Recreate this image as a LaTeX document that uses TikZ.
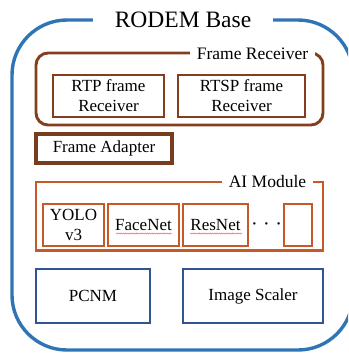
\documentclass[tikz,border=0pt]{standalone}
\usepackage{fontspec}
\setmainfont{Liberation Serif}
\usetikzlibrary{decorations.pathmorphing}
\definecolor{baseblue}{RGB}{46,117,182}
\definecolor{recvbrown}{RGB}{132,62,30}
\definecolor{adaptbrown}{RGB}{120,60,30}
\definecolor{aiorange}{RGB}{197,90,40}
\definecolor{toolblue}{RGB}{47,85,151}
\tikzset{
  grouplabel/.style={fill=white, inner sep=0pt, text=black},
  leafbox/.style={draw, line width=2.4pt, inner sep=0pt, align=center,
    font=\fontsize{17}{20}\selectfont, text=black},
  spellmark/.style={draw=red!65, line width=0.45pt,
    decorate, decoration={snake, amplitude=0.55pt, segment length=2.2pt}}
}
\begin{document}
\begin{tikzpicture}[x=1pt, y=-1pt]
\useasboundingbox (0,0) rectangle (348,353);
\clip (0,0) rectangle (348,353);

% outer platform frame
\draw[baseblue, line width=3.4pt, rounded corners=55pt] (12,20) rectangle (353,350);
\node[grouplabel, minimum width=180pt, minimum height=20pt,
      font=\fontsize{23.5}{26}\selectfont] (base) at (183,20) {RODEM Base};

% frame receiver group
\draw[recvbrown, line width=2.9pt, rounded corners=12pt] (36,53) rectangle (323,125);
\node[grouplabel, minimum width=125pt, minimum height=12pt,
      font=\fontsize{17.5}{20}\selectfont] (recv) at (252.5,54) {Frame Receiver};
\node[leafbox, draw=recvbrown, minimum width=111pt, minimum height=42pt] (rtp)
  at (108.5,96) {RTP frame\\Receiver};
\node[leafbox, draw=recvbrown, minimum width=127pt, minimum height=42pt] (rtsp)
  at (241.5,96) {RTSP frame\\Receiver};

% frame adapter
\node[leafbox, draw=adaptbrown, line width=3.3pt, minimum width=136pt, minimum height=29pt] (adapt)
  at (104,148.5) {Frame Adapter};

% AI module group
\draw[aiorange, line width=2.8pt] (36,182) rectangle (323,250.5);
\node[grouplabel, minimum width=91pt, minimum height=12pt,
      font=\fontsize{17.5}{20}\selectfont] (ai) at (267.5,182) {AI Module};
\node[leafbox, draw=aiorange, line width=2.8pt, minimum width=61pt, minimum height=42pt] (yolo)
  at (73.5,225) {YOLO\\v3};
\node[leafbox, draw=aiorange, line width=2.8pt, minimum width=71pt, minimum height=42pt] (facenet)
  at (143.5,225) {FaceNet};
\node[leafbox, draw=aiorange, line width=2.8pt, minimum width=65pt, minimum height=42pt] (resnet)
  at (215.5,225) {ResNet};
\node[font=\fontsize{20}{22}\selectfont, inner sep=0pt] (dots) at (266.5,226.5)
  {·\hspace{5.5pt}·\hspace{5.5pt}·};
\node[leafbox, draw=aiorange, line width=2.8pt, minimum width=28pt, minimum height=42pt] (slot)
  at (298,225) {};
\draw[spellmark] (116,233.5) -- (172,233.5);
\draw[spellmark] (190,233.5) -- (242,233.5);

% support components
\node[leafbox, draw=toolblue, line width=2.8pt, minimum width=114pt, minimum height=54pt] (pcnm)
  at (93,296) {PCNM};
\node[leafbox, draw=toolblue, line width=2.8pt, minimum width=140pt, minimum height=54pt] (scaler)
  at (253,296) {Image Scaler};
\end{tikzpicture}
\end{document}
